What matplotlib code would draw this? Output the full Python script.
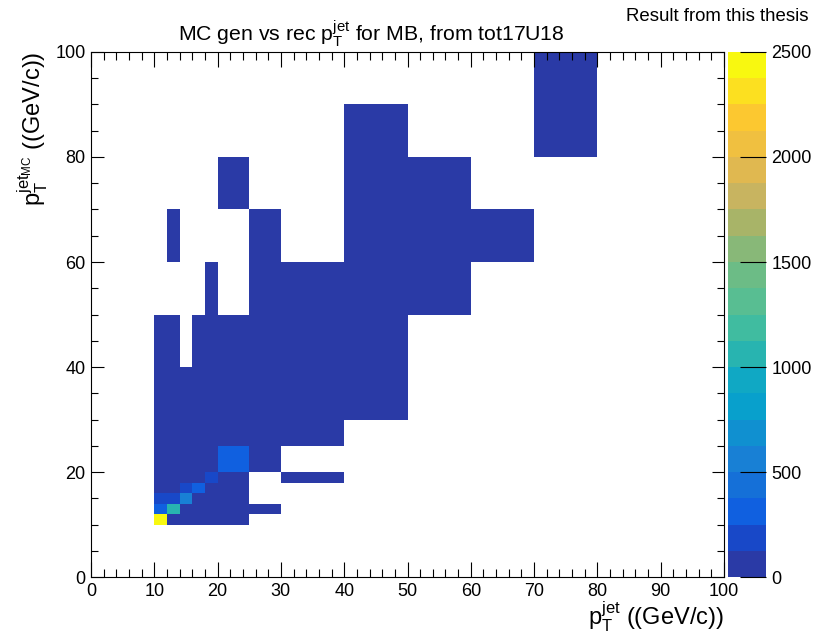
import matplotlib
matplotlib.use('Agg')
import matplotlib.pyplot as plt
import numpy as np
from matplotlib.colors import ListedColormap, BoundaryNorm
from matplotlib.ticker import MultipleLocator


FILE = 'out.png'

# Variable binning in pT (GeV/c), same for reconstructed (x) and generated (y)
PT_EDGES = [10, 12, 14, 16, 18, 20, 25, 30, 40, 50, 60, 70, 80, 90, 100]

# Bin contents, one row per generated-pT bin (bottom to top); 0 = empty bin
COUNTS = [
    [2450, 90, 60, 40, 25, 20, 0, 0, 0, 0, 0, 0, 0, 0],
    [300, 1060, 110, 70, 45, 30, 5, 0, 0, 0, 0, 0, 0, 0],
    [190, 190, 560, 100, 60, 35, 0, 0, 0, 0, 0, 0, 0, 0],
    [80, 110, 200, 320, 110, 50, 0, 0, 0, 0, 0, 0, 0, 0],
    [50, 70, 90, 110, 180, 100, 0, 3, 0, 0, 0, 0, 0, 0],
    [40, 50, 60, 80, 110, 300, 40, 0, 0, 0, 0, 0, 0, 0],
    [20, 25, 30, 30, 40, 90, 60, 10, 0, 0, 0, 0, 0, 0],
    [10, 12, 15, 15, 20, 40, 50, 40, 5, 0, 0, 0, 0, 0],
    [3, 2, 0, 3, 4, 10, 15, 30, 20, 0, 0, 0, 0, 0],
    [0, 0, 0, 0, 1, 0, 2, 6, 12, 8, 0, 0, 0, 0],
    [0, 1, 0, 0, 0, 0, 1, 0, 4, 5, 1, 0, 0, 0],
    [0, 0, 0, 0, 0, 1, 0, 0, 2, 2, 0, 0, 0, 0],
    [0, 0, 0, 0, 0, 0, 0, 0, 1, 0, 0, 1, 0, 0],
    [0, 0, 0, 0, 0, 0, 0, 0, 0, 0, 0, 1, 0, 0],
]

Z_MAX = 2500
N_CONTOURS = 20
COLORBAR_TICKS = [0, 500, 1000, 1500, 2000, 2500]

# Palette bands, low to high
PALETTE = ['#2a3aa6', '#1848c8', '#1060e0', '#1570d8', '#1880d5',
           '#1090d0', '#08a0cc', '#10a8c4', '#28b4b0', '#40bca0',
           '#58be92', '#6cbc86', '#88b878', '#a8b468', '#c8b460',
           '#e0b850', '#f0c040', '#fcc830', '#fce020', '#f8f810']


def main():
    plt.rcParams['font.family'] = ['Liberation Sans', 'DejaVu Sans']
    plt.rcParams['mathtext.fontset'] = 'custom'
    plt.rcParams['mathtext.rm'] = 'Liberation Sans'
    plt.rcParams['mathtext.it'] = 'Liberation Sans'
    plt.rcParams['mathtext.default'] = 'rm'

    fig = plt.figure(figsize=(8.22, 6.41), dpi=100)
    ax = fig.add_axes([0.1107, 0.0998, 0.7701, 0.8191])
    cax = fig.add_axes([0.8856, 0.0998, 0.0463, 0.8191])

    # Empty bins are not drawn
    z = np.ma.masked_equal(np.array(COUNTS, dtype=float), 0)
    cmap = ListedColormap(PALETTE)
    norm = BoundaryNorm(np.linspace(0, Z_MAX, N_CONTOURS + 1), cmap.N)
    mesh = ax.pcolormesh(PT_EDGES, PT_EDGES, z, cmap=cmap, norm=norm,
                         edgecolors='none', antialiased=False)

    ax.set_xlim(0, 100)
    ax.set_ylim(0, 100)
    ax.xaxis.set_major_locator(MultipleLocator(10))
    ax.xaxis.set_minor_locator(MultipleLocator(2))
    ax.yaxis.set_major_locator(MultipleLocator(20))
    ax.yaxis.set_minor_locator(MultipleLocator(5))
    ax.tick_params(axis='both', which='both', direction='in', top=True,
                   right=True, labelsize=13, width=0.8, colors='black')
    ax.tick_params(axis='x', which='major', length=11, pad=4)
    ax.tick_params(axis='x', which='minor', length=6)
    ax.tick_params(axis='y', which='major', length=9, pad=4)
    ax.tick_params(axis='y', which='minor', length=5)
    for s in ax.spines.values():
        s.set_linewidth(0.8)

    ax.set_xlabel(r'$p_{T}^{jet}$ ((GeV/c))', fontsize=17, loc='right',
                  labelpad=0)
    ax.set_ylabel(r'$p_{T}^{jet_{MC}}$ ((GeV/c))', fontsize=17, loc='top',
                  labelpad=4)

    fig.text(0.452, 0.947, r'MC gen vs rec $p_{T}^{jet}$ for MB, from tot17U18',
             fontsize=15.3, ha='center', va='center')
    fig.text(0.983, 0.975, 'Result from this thesis', fontsize=13.4,
             ha='right', va='center')

    # Colour scale
    cb = fig.colorbar(mesh, cax=cax, ticks=COLORBAR_TICKS)
    cb.outline.set_visible(False)
    cax.tick_params(direction='in', length=19, width=0.8, labelsize=13,
                    pad=4)
    cax.minorticks_off()

    fig.savefig(FILE, dpi=100)


if __name__ == '__main__':
    main()
